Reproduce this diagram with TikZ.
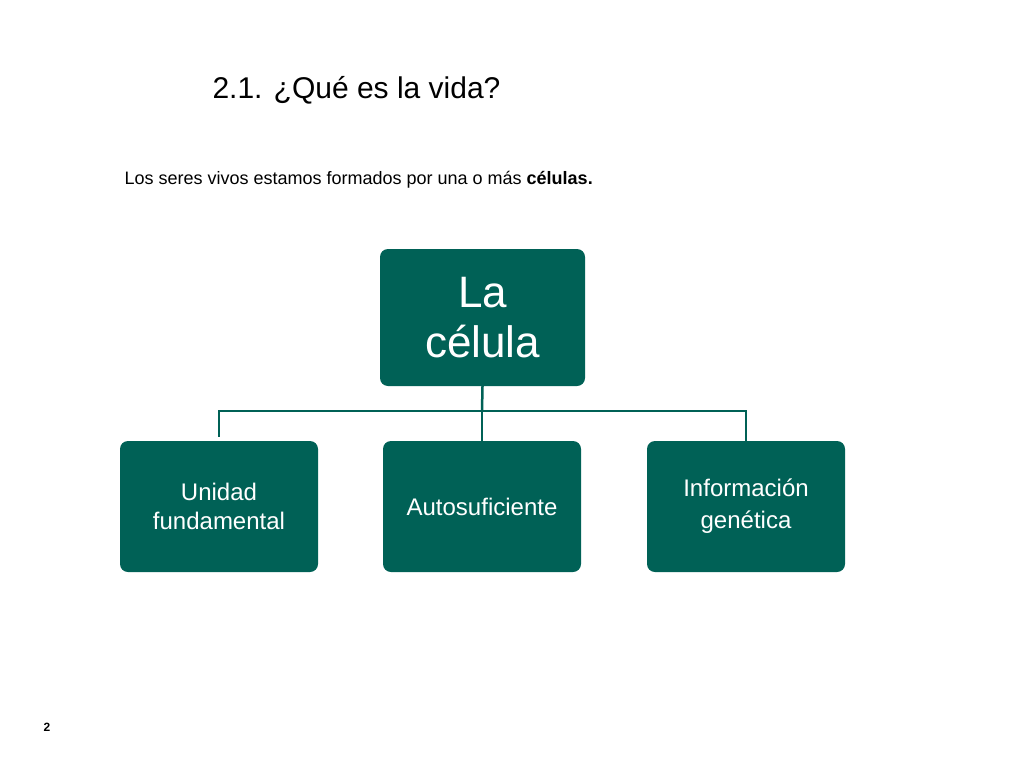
\documentclass[tikz,border=0pt]{standalone}
\usepackage{fontspec}
\setmainfont{Liberation Sans}
\definecolor{teal1}{HTML}{006156}
\begin{document}
\begin{tikzpicture}[x=1pt,y=-1pt,
  box/.style={fill=teal1,rounded corners=8pt,text=white,align=center,inner sep=0pt},
  conn/.style={draw=teal1,line width=2.5pt}]
\useasboundingbox (0,0) rectangle (1024,768);
\node[anchor=west,font=\fontsize{30}{36}\selectfont] (title) at (209,90) {2.1. ¿Qué es la vida?};
\node[anchor=west,font=\fontsize{18}{22}\selectfont] (sub) at (121,180) {Los seres vivos estamos formados por una o más \textbf{células.}};
\node[box,minimum width=205pt,minimum height=137pt,font=\fontsize{44}{50}\selectfont] (top) at (482.5,317.5) {La\\célula};
\node[box,minimum width=198pt,minimum height=131pt,font=\fontsize{24}{29}\selectfont] (a) at (219,506.5) {Unidad\\fundamental};
\node[box,minimum width=198pt,minimum height=131pt,font=\fontsize{24}{29}\selectfont] (b) at (482,506.5) {Autosuficiente};
\node[box,minimum width=198pt,minimum height=131pt,font=\fontsize{24}{32}\selectfont] (c) at (746,506.5) {Información\\genética};
\coordinate (h) at (482,411);
\draw[conn] (top.south) -- (h);
\draw[conn] (a.north) ++(0,-4) |- (h) -| ([yshift=-4]c.north);
\draw[conn] (h) -- ([yshift=-4]b.north);
\node[font=\bfseries\fontsize{12}{14}\selectfont] (pg) at (47,727) {2};
\end{tikzpicture}
\end{document}
